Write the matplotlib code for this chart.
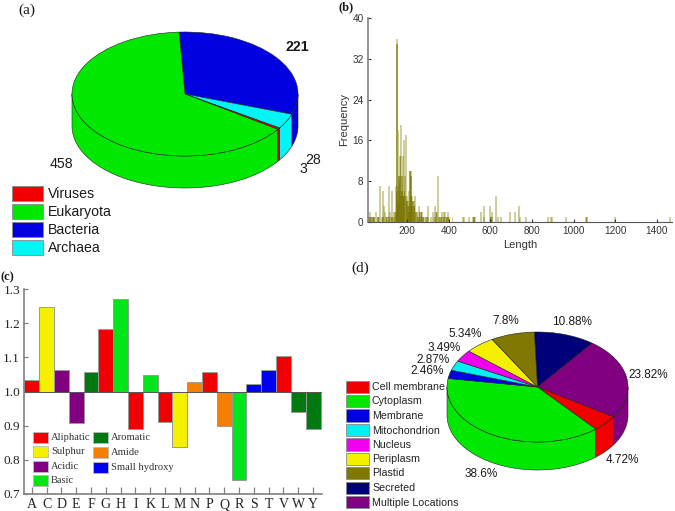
import numpy as np
import matplotlib
matplotlib.use('Agg')
import matplotlib.pyplot as plt
from matplotlib.patches import Rectangle

plt.rcParams['font.family'] = ['Liberation Sans', 'DejaVu Sans']

W, H = 675, 511

# panel a
org_names = ['Viruses', 'Eukaryota', 'Bacteria', 'Archaea']
org_pie_order = ['Bacteria', 'Archaea', 'Viruses', 'Eukaryota']
org_values = [221, 28, 3, 458]

# panel b
len_x = [12, 18, 22, 28, 33, 38, 42, 52, 58, 65, 70, 78, 85, 88, 92, 96, 102, 108, 113, 118,
         124, 128, 133, 138, 143, 146, 150, 150, 151, 154, 158, 162, 165, 168, 172, 175, 178,
         182, 186, 190, 195, 198, 202, 206, 210, 214, 218, 221, 225, 230, 234, 238, 243, 250,
         255, 260, 265, 270, 275, 280, 288, 292, 298, 300, 315, 322, 328, 335, 340, 345, 348,
         355, 362, 368, 372, 378, 382, 386, 392, 398, 402, 418, 470, 475, 495, 518, 522, 526,
         555, 568, 570, 600, 603, 607, 610, 625, 635, 650, 695, 718, 738, 742, 770, 875, 892,
         896, 965, 1060, 1064, 1198, 1465]
len_freq = [1, 1, 2, 1, 1, 1, 1, 2, 1, 1, 7, 1, 6, 3, 2, 1, 1, 1, 7, 2,
            1, 6, 1, 2, 2, 7, 36, 35, 35, 7, 18, 9, 13, 9, 19, 6, 13,
            5, 16, 9, 17, 5, 4, 3, 6, 10, 10, 5, 4, 2, 4, 5, 2, 1,
            3, 2, 2, 2, 1, 1, 1, 1, 3, 1, 1, 2, 1, 3, 2, 2, 9,
            1, 1, 2, 1, 2, 2, 1, 1, 2, 1, 1, 1, 1, 1, 1, 1, 1,
            2, 3, 1, 3, 1, 2, 1, 5, 1, 1, 2, 2, 3, 1, 1, 1, 1,
            1, 1, 1, 1, 1, 1]
# second layer: the dense dark part near the base
dense_x = [14, 20, 26, 36, 40, 60, 84, 100, 112, 126, 140, 146, 150, 154, 156, 160, 162, 164, 168,
           170, 172, 176, 178, 180, 184, 188, 192, 196, 200, 204, 208, 212, 214, 216, 218, 220,
           224, 228, 232, 236, 240, 246, 252, 258, 262, 268, 272, 278, 296, 336, 340, 352, 360,
           366, 374, 380, 388, 396, 522, 602, 606, 1062]
dense_freq = [1, 1, 1, 1, 1, 1, 1, 1, 1, 1, 1, 2, 6, 3, 4, 9, 6, 8, 13,
              5, 9, 6, 9, 5, 5, 6, 5, 4, 4, 3, 2, 3, 10, 5, 9, 5,
              3, 4, 3, 3, 2, 2, 1, 2, 1, 2, 1, 1, 1, 1, 2, 1, 1,
              1, 1, 1, 1, 1, 1, 1, 1, 1]
len_xticks = [200, 400, 600, 800, 1000, 1200, 1400]
len_yticks = [0, 8, 16, 24, 32, 40]

# panel c
aa = ['A', 'C', 'D', 'E', 'F', 'G', 'H', 'I', 'K', 'L', 'M', 'N', 'P', 'Q', 'R', 'S', 'T', 'V', 'W', 'Y']
aa_values = [1.035, 1.248, 1.062, 0.907, 1.057, 1.182, 1.271, 0.889, 1.048, 0.911,
             0.837, 1.027, 1.056, 0.900, 0.741, 1.021, 1.062, 1.104, 0.941, 0.889]
aa_groups = ['Aliphatic', 'Sulphur', 'Acidic', 'Acidic', 'Aromatic', 'Aliphatic', 'Basic', 'Aliphatic',
             'Basic', 'Aliphatic', 'Sulphur', 'Amide', 'Aliphatic', 'Amide', 'Basic', 'Small hydroxy',
             'Small hydroxy', 'Aliphatic', 'Aromatic', 'Aromatic']
aa_yticks = [0.7, 0.8, 0.9, 1.0, 1.1, 1.2, 1.3]

# panel d
loc_names = ['Cell membrane', 'Cytoplasm', 'Membrane', 'Mitochondrion', 'Nucleus',
             'Periplasm', 'Plastid', 'Secreted', 'Multiple Locations']
loc_pie_order = ['Secreted', 'Multiple Locations', 'Cell membrane', 'Cytoplasm', 'Membrane',
                 'Mitochondrion', 'Nucleus', 'Periplasm', 'Plastid']
loc_values = [10.88, 23.82, 4.72, 38.6, 2.46, 2.87, 3.49, 5.34, 7.8]

org_colors = {'Viruses': '#f00000', 'Eukaryota': '#00e800', 'Bacteria': '#0000e0', 'Archaea': '#00f5f5'}
group_colors = {'Aliphatic': '#f00000', 'Sulphur': '#f5f000', 'Acidic': '#800080', 'Basic': '#00e61a',
                'Aromatic': '#007a10', 'Amide': '#f57f00', 'Small hydroxy': '#0000f0'}
loc_colors = {'Cell membrane': '#f00000', 'Cytoplasm': '#00e800', 'Membrane': '#0000e0',
              'Mitochondrion': '#00f0f0', 'Nucleus': '#f000f0', 'Periplasm': '#f5f000',
              'Plastid': '#807800', 'Secreted': '#000078', 'Multiple Locations': '#800080'}


def px_axes(fig, left, top, right, bottom):
    return fig.add_axes([left / W, 1 - bottom / H, (right - left) / W, (bottom - top) / H])


def pie3d(fig, values, colors, start, cx, cy, rx, ry, depth):
    # cylinder: pie on top, lower half of the rim drawn as walls
    m = 1.03
    ax = px_axes(fig, cx - rx * m, cy - ry * m, cx + rx * m, cy + ry + depth + 2)
    d = depth / ry
    ax.pie(values, colors=colors, startangle=start, counterclock=False, radius=1,
           wedgeprops={'edgecolor': '#202020', 'linewidth': 0.4})
    ax.set_aspect('auto')
    ax.set_xlim(-m, m)
    ax.set_ylim(-1 - d - 2 / ry, m)
    ax.axis('off')
    edges = start - np.cumsum([0] + list(values)) / sum(values) * 360.0
    for i, c in enumerate(colors):
        a0, a1 = edges[i], edges[i + 1]
        for top_a, low_a in ((0, -180), (-360, -540)):
            hi, lo = min(a0, top_a), max(a1, low_a)
            if hi <= lo:
                continue
            t = np.radians(np.linspace(hi, lo, 80))
            x = np.concatenate([np.cos(t), np.cos(t)[::-1]])
            y = np.concatenate([np.sin(t), np.sin(t)[::-1] - d])
            ax.fill(x, y, facecolor=c, edgecolor='#202020', linewidth=0.4, zorder=0.5)
    return ax


def legend_box(ov, x0, x1, y0, y1, color, edge='#8a8a8a'):
    ov.add_patch(Rectangle((x0, y0), x1 - x0, y1 - y0, facecolor=color, edgecolor=edge, linewidth=0.6))


fig = plt.figure(figsize=(W / 100, H / 100), dpi=100, facecolor='white')

# (a)
pie3d(fig, org_values, [org_colors[n] for n in org_pie_order], 93, 185, 94, 113, 62, 32)

# (d)
pie3d(fig, loc_values, [loc_colors[n] for n in loc_pie_order], 92, 537.5, 387, 90.5, 55, 28)

# (b)
axb = px_axes(fig, 367.7, 18.3, 672, 221.7)
axb.bar(len_x, len_freq, width=9, color='#808000', alpha=0.38, linewidth=0)
axb.bar(dense_x, dense_freq, width=7, color='#787000', alpha=0.5, linewidth=0)
axb.set_xlim(10, 1473)
axb.set_ylim(0, 40)
axb.set_xticks(len_xticks)
axb.set_yticks(len_yticks)
axb.tick_params(direction='in', length=2, width=0.8, labelsize=7.2, colors='#333333', pad=3)
axb.set_xlabel('Length', fontsize=8, color='#333333', labelpad=3)
axb.set_ylabel('Frequency', fontsize=8, color='#333333', labelpad=2)
for s in ['top', 'right']:
    axb.spines[s].set_visible(False)
axb.spines['left'].set_color('#808080')
axb.spines['left'].set_linewidth(1.2)
axb.spines['bottom'].set_color('#555555')

# (c)
axc = px_axes(fig, 24.3, 289, 322, 494)
pos = np.arange(len(aa))
diff = np.array(aa_values) - 1.0
axc.bar(pos, diff, bottom=1.0, width=1.0, color=[group_colors[g] for g in aa_groups],
        edgecolor='#9a9a9a', linewidth=0.7)
axc.plot([-0.5, len(aa) - 0.5], [1, 1], color='#555555', lw=0.7)
axc.set_xlim(-0.5, 19.6)
axc.set_ylim(0.7, 1.3)
axc.set_xticks(pos)
axc.set_xticklabels(aa, family='Liberation Serif', fontsize=10)
axc.set_yticks(aa_yticks)
axc.set_yticklabels(['%.1f' % v for v in aa_yticks], family='Liberation Serif', fontsize=9.5)
axc.tick_params(direction='in', length=5, width=0.9, color='#808080', pad=3, labelcolor='#222222')
axc.tick_params(axis='y', length=3)
for s in ['top', 'right']:
    axc.spines[s].set_visible(False)
for s in ['left', 'bottom']:
    axc.spines[s].set_color('#808080')
    axc.spines[s].set_linewidth(1.2)

# overlay in pixels for legends and free text
ov = fig.add_axes([0, 0, 1, 1], zorder=5)
ov.set_xlim(0, W)
ov.set_ylim(H, 0)
ov.axis('off')


def label(x, y, s, size, **kw):
    kw.setdefault('color', '#1a1a1a')
    ov.text(x, y, s, fontsize=size, ha='center', va='center', **kw)


serif = ['Liberation Serif', 'DejaVu Serif']
label(27, 10, '(a)', 11, family=serif)
label(346, 7, '(b)', 9, family=serif, fontweight='bold')
label(7, 277, '(c)', 9, family=serif, fontweight='bold')
label(360, 268, '(d)', 11, family=serif)

# legend a
a_tops = [186, 204, 222, 240]
for n, y in zip(org_names, a_tops):
    legend_box(ov, 12, 43, y, y + 15.5, org_colors[n])
    ov.text(48, y + 8, n, fontsize=10.2, va='center', color='#1a1a1a')
label(297, 47, '221', 10.2, fontweight='bold')
label(61, 164, '458', 10.2)
label(313, 160, '28', 10.2)
label(303, 169, '3', 10.2)

# legend c
c_left = ['Aliphatic', 'Sulphur', 'Acidic', 'Basic']
c_right = ['Aromatic', 'Amide', 'Small hydroxy']
for n, y in zip(c_left, [432, 446, 461, 475]):
    legend_box(ov, 32.5, 47.5, y, y + 11, group_colors[n], edge='#bbbbbb')
    ov.text(51, y + 5.5, n, fontsize=7.6, family=serif, va='center', color='#333333')
for n, y in zip(c_right, [432, 447, 462]):
    legend_box(ov, 92.5, 108, y, y + 11.5, group_colors[n], edge='#bbbbbb')
    ov.text(111, y + 5.5, n, fontsize=7.6, family=serif, va='center', color='#333333')

# legend d
d_tops = [380.7, 395, 409.5, 424, 438.3, 452.7, 467, 481.7, 496]
for n, y in zip(loc_names, d_tops):
    legend_box(ov, 346, 369, y, y + 12.5, loc_colors[n])
    ov.text(372, y + 6.5, n, fontsize=7.7, va='center', color='#222222')

d_labels = ['7.8%', '10.88%', '5.34%', '3.49%', '2.87%', '2.46%', '23.82%', '4.72%', '38.6%']
d_label_x = [506, 572, 465, 444, 433, 427, 648, 622, 481]
d_label_y = [321, 322, 334, 348, 360, 371, 375, 460, 474]
for s, x, y in zip(d_labels, d_label_x, d_label_y):
    label(x, y, s, 8.5)

fig.savefig('out.png', dpi=100)
